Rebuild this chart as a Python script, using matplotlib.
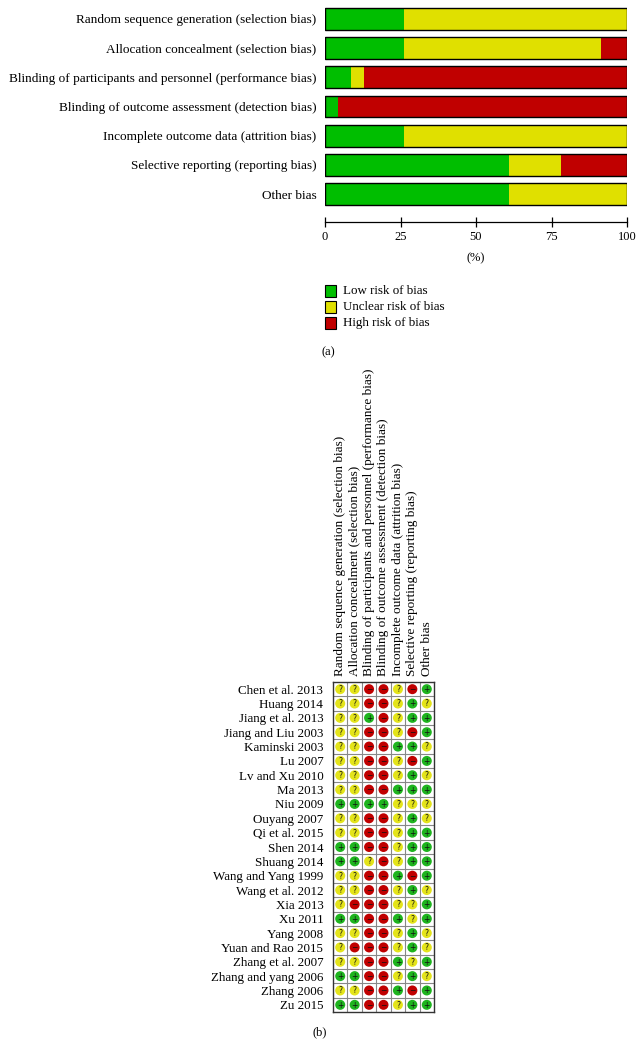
import numpy as np
import matplotlib
matplotlib.use("Agg")
import matplotlib.pyplot as plt
from matplotlib.patches import Rectangle

# ---------------- data ----------------
domains = [
    "Random sequence generation (selection bias)",
    "Allocation concealment (selection bias)",
    "Blinding of participants and personnel (performance bias)",
    "Blinding of outcome assessment (detection bias)",
    "Incomplete outcome data (attrition bias)",
    "Selective reporting (reporting bias)",
    "Other bias",
]

studies = [
    "Chen et al. 2013", "Huang 2014", "Jiang et al. 2013", "Jiang and Liu 2003",
    "Kaminski 2003", "Lu 2007", "Lv and Xu 2010", "Ma 2013", "Niu 2009",
    "Ouyang 2007", "Qi et al. 2015", "Shen 2014", "Shuang 2014",
    "Wang and Yang 1999", "Wang et al. 2012", "Xia 2013", "Xu 2011",
    "Yang 2008", "Yuan and Rao 2015", "Zhang et al. 2007",
    "Zhang and yang 2006", "Zhang 2006", "Zu 2015",
]

# judgement per study, one char per domain: + low, ? unclear, - high
judgements = [
    "??--?-+", "??--?+?", "??+-?++", "??--?-+",
    "??--++?", "??--?-+", "??--?+?", "??--+++", "++++???",
    "??--?+?", "??--?++", "++--?++", "++?-?++",
    "??--+-+", "??--?+?", "?---??+", "++--+?+",
    "??--?+?", "?---?+?", "??--+?+",
    "++--?+?", "??--+-+", "++--?++",
]

levels = ["+", "?", "-"]
level_names = ["Low risk of bias", "Unclear risk of bias", "High risk of bias"]
bar_colors = {"+": "#00BE00", "?": "#E0E000", "-": "#C00000"}
dot_colors = {"+": "#1EB41E", "?": "#E4E41A", "-": "#C00000"}
ticks_pct = [0, 25, 50, 75, 100]

W, H = 644, 1057
plt.rcParams["font.family"] = ["Liberation Serif", "DejaVu Serif"]
fig = plt.figure(figsize=(W / 100, H / 100), dpi=100)


def box(x0, y0, x1, y1):
    return [x0 / W, 1 - y1 / H, (x1 - x0) / W, (y1 - y0) / H]


# ---------------- panel (a) ----------------
ax1 = fig.add_axes(box(325, 4.4, 627, 208.6))
n_dom = len(domains)
counts = {lv: np.array([sum(j[d] == lv for j in judgements) for d in range(n_dom)])
          for lv in levels}
total = len(judgements)
left = np.zeros(n_dom)
ypos = np.arange(n_dom)
for lv in levels:
    pct = counts[lv] / total * 100
    ax1.barh(ypos, pct, left=left, height=0.75, color=bar_colors[lv],
             edgecolor="none")
    left += pct
ax1.barh(ypos, np.full(n_dom, 100), height=0.75, fill=False,
         edgecolor="black", linewidth=1.0)

ax1.set_xlim(0, 100)
ax1.set_ylim(n_dom - 0.5, -0.5)
ax1.set_yticks(ypos)
ax1.set_yticklabels(domains, fontsize=9.5)
ax1.tick_params(axis="y", length=0, pad=6)
ax1.set_xticks(ticks_pct)
ax1.tick_params(axis="x", direction="inout", length=6.5, width=0.9,
                labelsize=9, pad=3.5)
for s in ["top", "right", "left"]:
    ax1.spines[s].set_visible(False)
ax1.spines["bottom"].set_position(("outward", 9.7))
ax1.spines["bottom"].set_linewidth(0.9)
fig.text(476 / W, 1 - 258 / H, "(%)", fontsize=9, ha="center", va="center")

# legend, drawn by hand
for k, lv in enumerate(levels):
    yc = 291 + 16 * k
    fig.add_artist(Rectangle((325 / W, 1 - (yc + 5.5) / H), 11 / W, 11 / H,
                             transform=fig.transFigure,
                             facecolor=bar_colors[lv], edgecolor="black",
                             linewidth=0.8))
    fig.text(343 / W, 1 - yc / H, level_names[k], fontsize=9.4,
             ha="left", va="center")

fig.text(328 / W, 1 - 352 / H, "(a)", fontsize=9, ha="center", va="center")

# ---------------- panel (b) ----------------
n_st = len(studies)
ax2 = fig.add_axes(box(333, 682, 434, 1012))
ax2.set_xlim(0, n_dom)
ax2.set_ylim(n_st, 0)
sym_map = {"+": "+", "?": "?", "-": "\u2212"}
for i, j in enumerate(judgements):
    for d, lv in enumerate(j):
        ax2.scatter(d + 0.5, i + 0.5, s=52, color=dot_colors[lv],
                    edgecolors="none", zorder=3)
        ax2.text(d + 0.5, i + 0.53, sym_map[lv], fontsize=5.5, ha="center",
                 va="center", color="#111111", zorder=4,
                 family="DejaVu Sans")
for k in range(1, n_dom):
    ax2.axvline(k, color="#888888", lw=0.8)
for k in range(1, n_st):
    ax2.axhline(k, color="#888888", lw=0.8)
for s in ax2.spines.values():
    s.set_color("#333333")
    s.set_linewidth(1.0)

ax2.set_yticks(np.arange(n_st) + 0.5)
ax2.set_yticklabels(studies, fontsize=9.4)
ax2.tick_params(axis="y", length=0, pad=7)
ax2.xaxis.tick_top()
ax2.set_xticks(np.arange(n_dom) + 0.5)
ax2.set_xticklabels(domains, rotation=90, fontsize=9.5, va="bottom")
ax2.tick_params(axis="x", length=0, pad=4.3)

fig.text(320 / W, 1 - 1032 / H, "(b)", fontsize=9, ha="center", va="center")

fig.savefig("out.png", dpi=100)
